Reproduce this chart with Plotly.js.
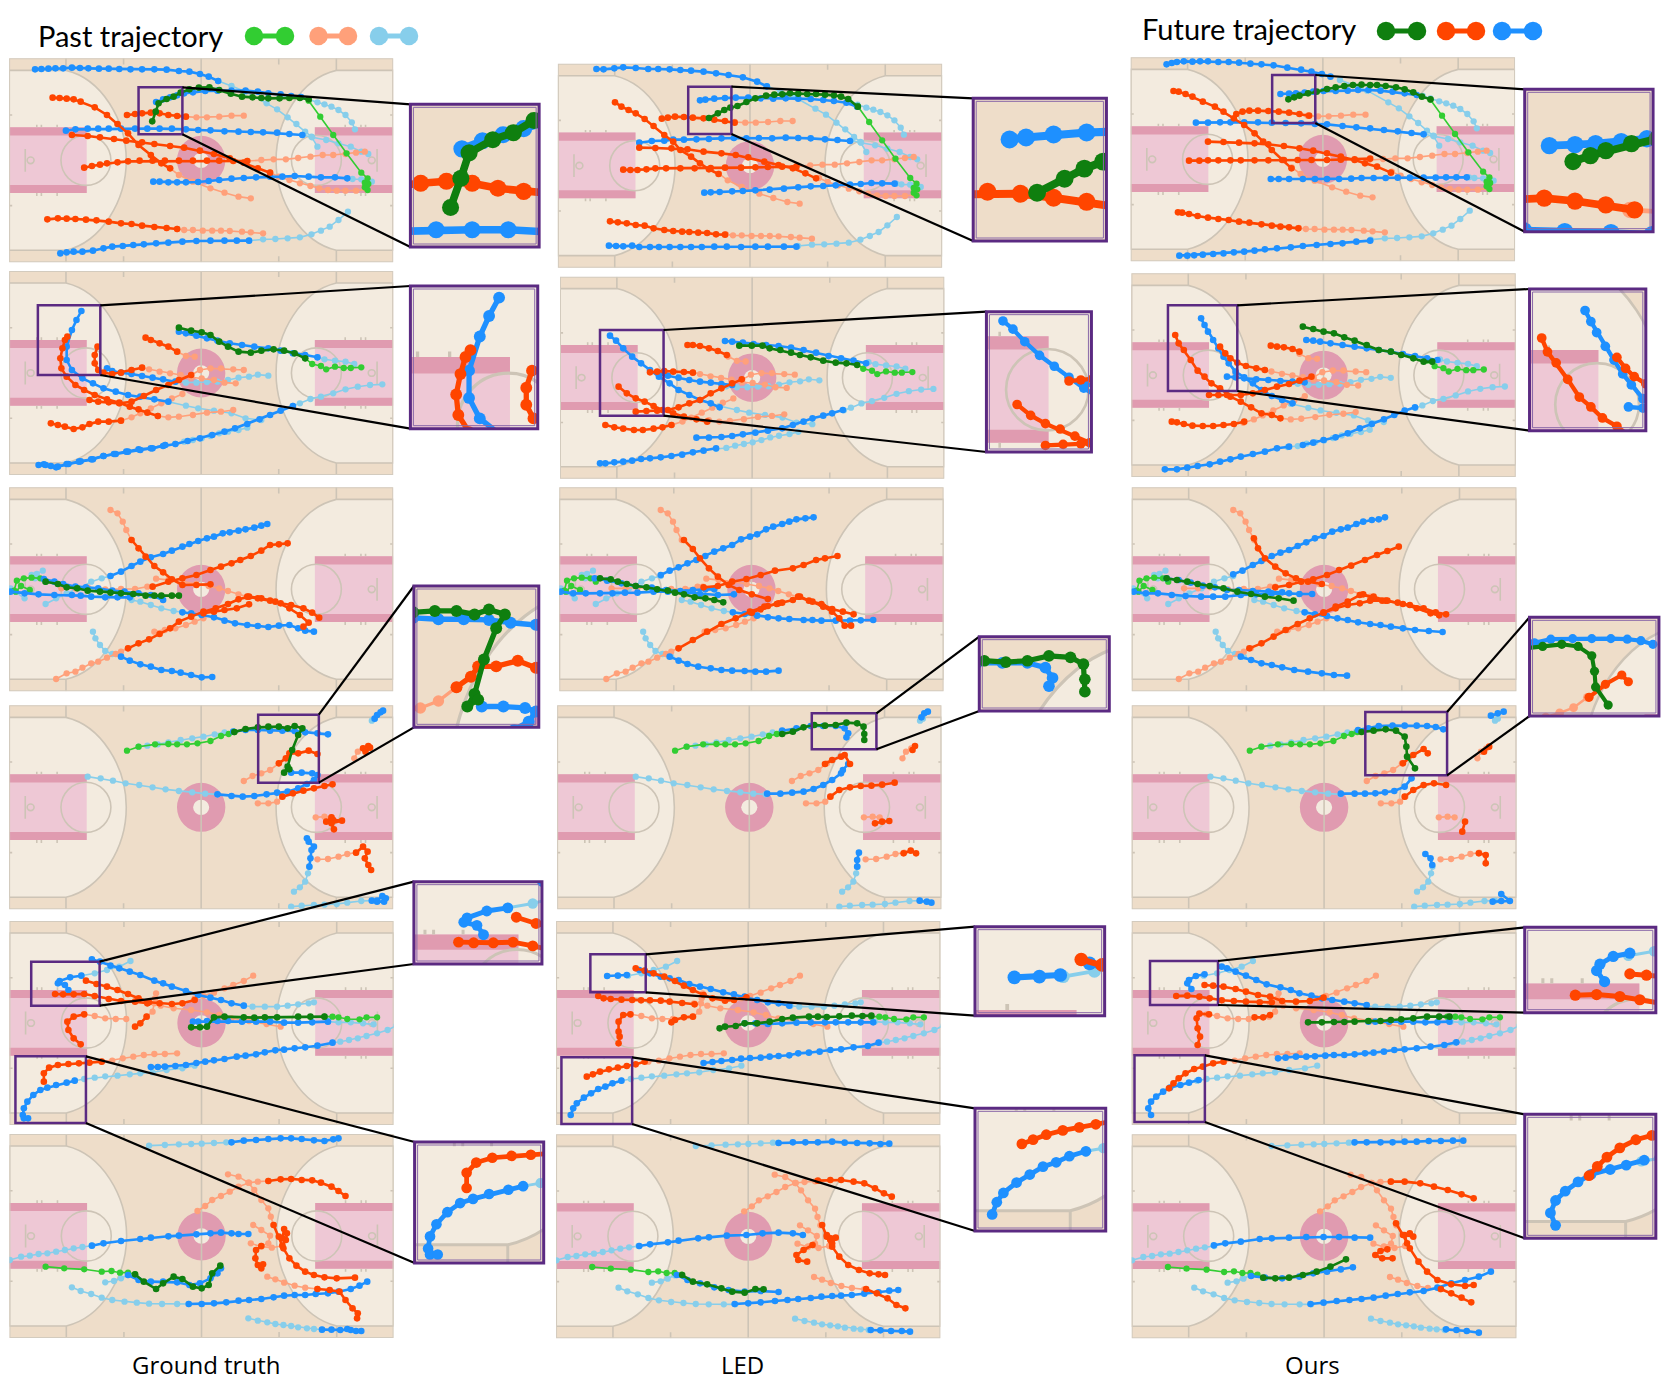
<!DOCTYPE html>
<html>
<head>
<meta charset="utf-8">
<script src="https://cdn.plot.ly/plotly-3.0.1.min.js"></script>
<style>body{margin:0;background:#fff}#chart{width:1661px;height:1400px}</style>
</head>
<body>
<div id="chart"></div>
<script>
// agents in every list below: 5 blue, 5 orange, then the ball. flat x,y pairs
const teams = ['blue','blue','blue','blue','blue','orange','orange','orange','orange','orange','ball'];

const past1 = [
 [905,440,888,410,870,395,845,372,820,352,790,328,760,310,700,275,660,258,622,243],
 [1050,462,1030,455,1000,440,965,430,930,420,890,412,862,405],
 [1060,545,1030,538,1005,537,990,535],
 [992,635,965,660,940,680,915,692,888,703,855,712,820,715,785,717,750,718,710,722],
 [1012,388,1003,367,985,345,965,330,945,320,925,313,905,307,880,298,858,291],
 [715,595,680,590,640,578,600,565,550,545,510,525,485,505],
 [695,347,660,347,625,350,590,352,560,352,530,350],
 [1045,568,1015,572,985,572,960,572,935,570,910,565,885,558,855,550,825,540,795,530,770,518],
 [1040,455,1015,458,985,462,950,465,920,465,885,470,850,474,815,478,780,478,745,480,705,483],
 [750,700,715,697,690,695,655,693,630,692,605,692,578,692,550,690,525,690,505,687],
 [1048,570,1040,562,1050,552,1040,548,1048,535,1030,518,988,460,950,405,913,350,880,302]
];
const gt1 = [
 [622,243,595,230,570,222,540,215,510,213,475,209,440,208,405,208,372,208,340,207,310,206,282,206,252,205,228,204,205,203,180,205,158,205,138,206,118,207,100,208],
 [862,405,825,402,790,398,750,397,715,396,680,395,640,394,600,391,565,390,530,388,490,386,455,386,420,386,385,386,345,386,310,386,280,386,250,386,215,388,188,392],
 [990,535,955,532,915,532,880,530,840,528,805,530,770,530,730,532,695,534,660,536,625,540,595,543,565,546,530,547,505,547,480,547,455,545,437,545],
 [710,722,675,722,640,722,600,722,560,723,520,725,480,728,445,730,410,733,380,735,350,738,320,740,295,745,265,752,235,755,210,755,190,757,172,760],
 [858,291,830,288,800,283,765,280,735,275,700,272,660,272,620,272,585,273,550,277,525,280,505,286,485,292,465,298,445,306],
 [485,505,460,490,430,465,395,435,365,400,335,372,305,345,270,322,230,305,210,298,190,296,170,294,150,293],
 [530,350,505,348,480,345,455,340,430,338,405,340,385,342,362,345],
 [770,518,735,505,695,488,655,475,610,462,570,452,525,443,485,438,440,432,405,427,360,422,325,417,285,412,250,408,205,405],
 [705,483,665,483,625,482,590,482,550,482,510,482,470,482,435,482,398,482,365,484,335,487,305,490,285,494,262,498,240,503],
 [505,687,475,684,440,681,405,677,375,672,345,670,310,665,275,661,245,659,215,657,190,656,165,655,135,658],
 [880,298,855,294,825,294,797,295,765,295,745,294,720,292,690,290,658,281,625,270,597,262,567,263,540,268,515,278,495,290,475,297,452,310,444,335,434,364]
];
const led1 = [
 [607,109,580,95,540,82,500,75,465,70,430,65,395,62,365,60,335,58,303,57,275,57,240,54,205,52,180,55,150,58,130,57],
 [840,273,805,270,770,268,730,265,695,264,660,263,622,265,585,264,550,265,515,264,480,265,445,267,410,268,375,269,345,269,320,272,285,273,250,278],
 [965,401,930,400,900,399,870,402,840,404,800,406,765,408,730,409,695,412,655,416,615,419,575,421,540,423,510,424,475,426,450,427,432,428],
 [690,590,655,590,610,590,575,590,535,591,495,590,460,590,425,591,395,591,365,591,335,591,305,591,280,591,250,591,230,587,205,589,185,588,165,587],
 [860,170,830,158,795,153,765,150,730,147,695,146,660,145,625,146,590,145,555,143,520,143,490,144,460,146,435,149,420,151],
 [472,372,445,358,420,340,395,320,365,300,345,275,320,255,290,228,265,207,240,190,220,180,200,170,182,157],
 [517,218,490,213,460,209,430,205,400,203,375,201,350,200,330,203,313,206],
 [745,385,715,370,680,355,640,345,600,335,555,322,520,315,480,310,430,305,385,298,340,295,295,294,250,293],
 [690,350,650,350,610,351,575,352,535,353,490,353,450,354,405,355,365,355,325,355,295,355,270,358,245,360,225,360,205,359],
 [490,554,465,553,440,549,415,548,390,546,370,545,345,543,320,540,290,535,265,527,240,525,215,520,190,517,168,514],
 [862,170,835,147,815,140,795,136,770,134,745,132,720,132,695,131,672,130,650,133,628,134,605,137,575,145,550,156,525,168,505,173,488,180,470,190,445,204]
];
const ours1 = [
 [610,230,585,222,555,215,525,209,485,203,445,196,410,193,378,191,345,188,315,186,285,186,255,184,232,184,210,185,185,184,165,186,150,189,135,193],
 [880,403,845,399,805,394,765,390,725,385,685,382,645,378,600,373,565,372,525,370,480,369,440,368,400,367,360,367,320,367,290,367,255,368,220,368],
 [1005,532,975,532,945,532,915,533,880,533,840,533,805,533,770,534,735,534,700,534,670,536,635,537,600,537,565,537,530,537,490,537,460,537,437,537],
 [725,722,685,725,645,730,610,732,570,735,530,738,495,742,455,745,420,748,390,752,360,755,330,757,300,760,270,762,240,764,215,766,195,767,172,767],
 [860,285,825,280,790,275,755,272,720,270,690,270,660,272,625,273,590,273,560,275,535,278,510,280,490,281,465,282],
 [497,505,470,480,440,450,415,425,390,400,360,375,330,355,300,335,275,320,240,305,210,290,190,282,170,275,155,273],
 [548,347,520,342,490,338,460,335,430,333,400,332,375,332,355,335,337,342],
 [785,518,745,500,710,490,680,480,640,470,600,460,560,452,520,445,475,438,430,433,390,430,345,428,300,426,255,425],
 [725,476,680,478,640,479,600,480,555,480,515,480,475,480,430,481,390,481,350,481,320,481,285,481,255,481,230,482,200,482],
 [517,685,490,682,465,680,440,677,410,673,375,668,345,665,315,660,285,657,255,653,225,648,200,642,180,638,168,637],
 [900,298,875,290,850,277,825,268,800,262,770,258,745,255,725,255,700,254,675,255,650,258,625,262,600,267,570,275,545,280,520,287,505,292,488,298]
];

const past2 = [
 [745,1260,700,1255,660,1240,610,1232,565,1225,530,1217,480,1205],
 [1010,1092,985,1085,955,1082,925,1078,905,1072],
 [765,1127,735,1124,710,1130,680,1133,650,1140,620,1145,590,1146,560,1148,530,1148,500,1145],
 [1090,1153,1055,1155,1020,1160,985,1168,950,1180,915,1190,885,1197,855,1210,835,1218],
 [705,1283,680,1290,650,1295,625,1300,600,1308,575,1315,550,1320,525,1325,500,1332,471,1335],
 [665,1230,630,1235,590,1238,550,1245,510,1250,480,1252,450,1248],
 [555,1070,530,1068,505,1055],
 [695,1110,665,1108,630,1105,600,1105,570,1110,545,1125],
 [672,1150,640,1148,610,1140,575,1135,545,1132,515,1125,485,1120,455,1115,425,1108,405,1103],
 [520,1182,490,1195,460,1210,430,1225,400,1240,375,1252,345,1262],
 [1030,1102,1000,1104,980,1104,955,1100,930,1108,915,1098,890,1092,870,1075]
];
const gt2 = [
 [480,1205,440,1198,400,1190,365,1185,330,1175,295,1165,265,1150,235,1135,205,1110,190,1080,190,1040,205,990,218,960,232,933],
 [905,1072,870,1065,835,1060,800,1052,765,1045,725,1040,690,1035,655,1030,620,1022,590,1015,560,1007,530,1000,510,995],
 [500,1145,465,1138,435,1133,405,1128,375,1122,345,1118,320,1113,305,1105],
 [835,1218,800,1232,770,1245,740,1258,705,1272,670,1285,640,1295,605,1305,570,1315,535,1323,500,1332,465,1338,430,1345,395,1348,360,1355,325,1362,295,1368,265,1378,230,1384,195,1392,165,1400,145,1398,125,1393,110,1395],
 [471,1335,435,1345,400,1350,365,1355,330,1362,295,1368,260,1378,225,1385,190,1392,160,1402,130,1395],
 [450,1248,420,1238,395,1228,370,1220,340,1208,305,1198,270,1185,240,1170,215,1155,190,1130,175,1105,172,1075,178,1045,185,1020,192,1010],
 [505,1055,480,1040,455,1030,430,1020,415,1013],
 [545,1125,510,1140,480,1155,445,1170,410,1188,375,1205,340,1210,310,1207,280,1205,255,1200],
 [405,1103,375,1110,345,1118,320,1122,295,1118,280,1110,270,1090,270,1065,278,1040],
 [345,1262,310,1265,280,1265,255,1272,235,1282,210,1287,185,1280,165,1275,145,1270],
 [870,1075,840,1060,810,1052,780,1048,745,1052,715,1058,680,1055,650,1040,625,1025,600,1005,575,997,545,992,510,983]
];
const led2 = [
 [475,1072,450,1060,420,1050,390,1035,360,1020,335,1000,305,980,280,960,255,940,230,920,205,895,185,872,168,857],
 [885,940,850,932,815,925,780,918,745,908,710,900,675,893,640,888,605,885,570,882,540,878,510,875,490,873],
 [510,1005,480,1002,450,998,420,995,390,990,360,983,330,977,305,972],
 [820,1080,790,1090,765,1097,735,1105,710,1115,680,1125,650,1135,610,1142,575,1148,540,1153,510,1158,480,1161,445,1163,410,1163],
 [465,1195,430,1202,400,1207,370,1214,340,1218,310,1222,280,1225,255,1227,230,1232,205,1235,180,1237,155,1240,140,1240],
 [440,1115,410,1108,375,1100,345,1090,315,1080,290,1068,265,1055,240,1045,215,1030,192,1010],
 [495,915,470,903,445,895,420,888,400,885,385,885],
 [537,988,510,1000,480,1015,450,1030,420,1050,390,1060,360,1072,330,1080,300,1082,270,1083,240,1085],
 [400,968,375,966,345,965,320,963,300,965,280,967],
 [340,1125,315,1132,290,1136,260,1140,235,1140,205,1136,180,1132,155,1125],
 [860,945,830,940,800,938,765,932,730,922,700,915,675,908,645,900,615,895,595,887,565,887,530,887]
];
const ours2 = [
 [500,1210,470,1200,440,1188,410,1170,385,1150,360,1132,335,1115,315,1090,300,1070,285,1045,270,1020,255,995,245,975,235,955],
 [920,1080,890,1075,855,1068,820,1062,785,1055,750,1050,715,1045,680,1040,645,1035,610,1030,580,1025,560,1022,540,1020],
 [535,1147,500,1145,465,1143,430,1140,395,1138,360,1135,335,1132,310,1130],
 [855,1222,825,1232,795,1245,765,1258,730,1272,695,1285,660,1300,625,1312,590,1320,560,1328,530,1335],
 [490,1340,455,1345,420,1355,385,1362,350,1370,320,1378,290,1385,260,1393,225,1398,195,1403,165,1408,130,1408],
 [465,1255,440,1245,410,1240,380,1222,350,1205,320,1190,290,1165,265,1150,245,1130,225,1112,205,1080,185,1050,170,1030,160,1005],
 [520,1055,500,1047,475,1042,455,1040,437,1037],
 [555,1130,520,1142,490,1152,455,1160,420,1170,385,1180,350,1185,310,1185,285,1185,258,1185],
 [420,1110,395,1105,365,1098,340,1088,320,1075,305,1060,290,1040],
 [360,1265,330,1272,300,1275,270,1278,240,1278,210,1277,185,1272,165,1267,150,1265],
 [905,1085,880,1085,850,1075,815,1065,785,1055,750,1050,715,1035,680,1022,650,1012,620,1000,590,995,560,987,530,980]
];

const past3 = [
 [130,372,160,355,190,340,225,325,260,305,290,295,315,288],
 [122,272,105,282,90,285,100,295,125,297],
 [70,355,45,335,30,325,28,335],
 [375,360,400,365,430,375,460,385,495,393,520,397],
 [265,455,272,475,285,495,300,513,320,522,345,530],
 [315,90,335,100,350,125,360,150,375,180],
 [175,325,215,325,250,322,300,328,345,327,385,327,420,320,435,320],
 [445,296,480,300,520,305,560,312,595,318,625,325,650,333,680,343,705,350],
 [160,597,190,580,215,575,235,563,260,550,280,545,305,533,330,522,345,515,365,505],
 [440,455,470,450,500,445,530,435,555,425,580,415],
 [85,330,60,318,45,335,40,332,48,302,68,295,90,293,115,295,130,305]
];
const gt3 = [
 [315,288,345,275,375,258,400,245,430,232,465,222,490,212,520,200,540,192,565,183,590,175,610,170,635,160,655,157,680,152,700,148,725,143,745,137,762,132],
 [125,297,155,305,180,312,215,320,245,322,280,325,320,332,355,335,395,340,430,345,465,360],
 [30,335,70,340,110,343,155,345,205,345,230,347,260,350,300,352,335,352,370,352],
 [520,397,545,400,575,405,610,412,640,422,670,430,705,435,735,438,765,441,795,437,825,435,850,445,870,452,895,455],
 [345,530,370,542,400,553,430,560,460,570,490,573,515,578,545,585,575,592,605,591],
 [375,180,395,205,415,230,440,258,465,277,490,298,520,315,560,315,600,313],
 [435,320,480,305,520,295,560,285,600,270,630,260,660,250,685,240,715,228,745,212,770,195,795,193,820,190],
 [705,350,735,355,770,362,800,370,830,375,865,385,890,398,910,413],
 [365,505,395,490,425,478,455,462,485,445,510,425,545,410,580,395,615,385,650,372,680,358,710,350,745,355,785,365,825,385,855,405,880,428,865,440],
 [580,400,610,395,640,390,675,385,710,373],
 [130,305,165,312,190,322,220,325,250,332,285,335,315,338,345,340,380,342,415,347,440,347,460,347,490,347,510,347]
];
const led3 = [
 [310,285,335,272,360,262,385,250,410,240,435,228,460,215,485,205,510,195,535,178,560,170,580,163,605,148,625,140,650,132,670,125,690,118,715,115,738,112],
 [125,295,160,302,200,310,240,318,285,323,325,330,365,333,400,330,435,328,460,328],
 [30,335,65,340,100,340,140,340,175,340,210,338,245,338,290,335,330,335,380,338,420,342,470,345,515,343],
 [512,397,545,402,580,407,610,412,640,415,670,417,710,420,735,420,760,422,800,422,840,422,870,421,905,420],
 [335,530,360,542,385,552,415,560,450,565,480,570,510,572,545,573,575,575,605,575,640,572],
 [375,180,400,207,420,235,445,265,470,290,500,315,530,330,565,343,610,357],
 [430,322,470,318,510,305,550,297,590,285,630,272,680,265,710,255,745,240,770,235,805,228],
 [695,350,725,362,760,372,790,387,820,395,850,403],
 [360,505,400,480,440,455,480,432,520,415,560,395,600,380,640,370,680,360,700,350,735,365,765,380,790,395,810,415,825,437,843,437],
 [565,398,590,388,610,378,635,372,650,368],
 [140,295,170,298,190,305,215,312,240,318,270,322,300,328,330,332,350,338,375,343,405,352,435,355,460,360,485,367]
];
const ours3 = [
 [328,283,355,272,385,255,410,243,440,228,465,218,490,210,515,198,540,187,565,175,590,168,615,155,640,148,660,143,685,132,705,125,730,120,750,118,768,112],
 [135,295,170,300,205,308,240,317,275,322,310,330,345,330,385,333,430,335,470,337],
 [40,335,75,340,110,340,150,345,190,348,235,350,270,350,305,350,350,345,395,343,440,340,490,340,520,342,557,342],
 [535,397,565,403,600,408,630,415,660,420,690,427,725,432,755,435,785,440,820,445,855,450,895,453,935,456],
 [350,530,380,540,410,550,440,555,470,562,505,570,545,575,585,580,620,585,658,587],
 [388,175,400,205,420,235,450,260,480,280,510,295,545,305,585,312],
 [450,322,490,315,525,305,560,298,600,285,635,270,670,257,710,240,745,225,775,213,808,200],
 [705,343,735,355,770,362,805,368,840,375,880,385,915,397,945,403],
 [375,505,410,490,445,470,480,450,515,432,550,415,590,398,625,380,660,365,695,345,735,350,775,362,820,372,860,385,900,400,925,406],
 [590,398,625,385,660,375,695,370,725,362,760,362],
 [135,295,165,300,195,305,225,312,260,318,300,325,340,335,380,342,420,350,460,355,503,362]
];

const past4 = [
 [250,890,287,895,322,902,358,910,397,915,435,922,472,928,510,933,548,937,585,941,620,943],
 [395,800,420,797,450,793,480,787,515,780,548,775,580,770,612,763,640,757,665,755],
 [1060,722,1068,716],
 [838,1235,855,1222,870,1205,878,1180,882,1160],
 [830,1280,860,1277,895,1275,925,1274,960,1272,990,1268,1030,1263,1060,1262],
 [695,903,720,888,745,880,770,870,795,850],
 [735,970,765,970,790,965,805,950],
 [1010,835,1020,815,1035,805],
 [900,1012,925,1010,945,1012],
 [905,1138,935,1137,965,1130,990,1122,1015,1118],
 [362,812,395,800,442,793,480,792,505,793,533,793,563,790,600,783,630,768,652,762,668,756]
];
const gt4 = [
 [620,943,660,948,692,950,725,948,760,943,790,938,820,935,850,925,875,912,895,900,905,885,890,880,860,878,830,878],
 [665,755,700,750,735,750,770,752,805,752,840,753,870,757,905,760,935,763],
 [1068,716,1075,705,1085,697,1092,692],
 [882,1160,885,1135,888,1110,895,1100,880,1085,875,1075],
 [1060,1262,1075,1265,1095,1265,1100,1255,1090,1248,1075,1262],
 [795,850,815,835,825,820,850,820,880,812,905,822],
 [805,950,835,940,865,932,895,925,925,918,948,913],
 [1035,805,1050,798,1055,803,1042,815],
 [945,1012,930,1025,950,1020,975,1022,945,1030,952,1048],
 [1015,1118,1035,1100,1048,1115,1040,1135,1050,1155,1058,1170],
 [668,756,700,747,735,742,765,740,795,740,820,745,840,738,862,745,850,765,833,810,820,860,810,878,825,868]
];
const led4 = [
 [608,941,645,941,678,938,710,935,738,927,765,915,790,900,815,880,820,870,835,852],
 [650,752,690,745,730,738,765,738,800,738,825,745,835,760,830,772],
 [1040,712,1048,700,1058,695],
 [860,1160,860,1140,865,1118],
 [1035,1262,1055,1265,1068,1268],
 [770,852,790,840,815,830,825,825,840,852],
 [785,950,810,930,840,922,870,918,900,917,930,914,965,908],
 [1015,810,1022,798],
 [910,1030,930,1025,950,1023],
 [990,1120,1010,1112,1025,1120],
 [650,762,680,755,710,742,740,735,770,737,800,735,830,728,860,730,878,740,880,762,880,780]
];
const ours4 = [
 [640,941,680,941,710,941,740,940,768,937,795,933,825,920,845,895],
 [690,750,720,745,750,738,790,737,825,737,860,737,890,738,915,741,937,748],
 [1075,707,1095,700,1112,695],
 [905,1155,900,1135,885,1122],
 [1080,1265,1105,1263,1130,1263,1105,1242],
 [820,850,850,825,880,807,892,820],
 [825,950,850,930,880,915,910,910,945,915],
 [1055,815,1070,800],
 [1000,1025,992,1055],
 [1040,1120,1060,1125,1060,1150],
 [700,756,735,752,770,748,800,752,825,770,830,800,832,830,855,865]
];

const past5 = [
 [372,138,340,155,305,165,270,175,232,182],
 [895,262,880,265,850,268,820,272,790,275,755,275,720,275,695,272],
 [1065,328,1035,325,1000,322,965,322,935,320],
 [1130,332,1105,345,1075,355,1045,363,1020,370,995,375,970,380,948,383],
 [555,452,520,460,475,465,435,472,400,475,370,478,335,482,300,484,270,488,240,492,213,497],
 [722,182,695,198,665,210,640,220,610,233,580,243,555,250],
 [445,235,442,250,440,265,435,290,418,305],
 [360,312,330,312,300,310,270,303,240,298],
 [505,415,470,417,440,417,410,420,380,425,350,430,320,437,290,440],
 [800,335,760,327,710,318,660,310,625,300,590,292,545,285,495,280,458,272,420,265],
 [1075,307,1045,307,1025,313,990,312,965,307,948,305,925,305]
];
const gt5 = [
 [232,182,200,187,170,198,165,205,185,210,195,225],
 [695,272,660,265,630,255,600,248,565,240,530,228,490,215,465,205,440,197,400,180,370,170,340,160,315,152,285,140,262,133],
 [935,320,890,322,850,323,810,323,770,320,730,320,690,320,650,318,620,318,590,318,565,320,550,320],
 [948,383,905,392,870,397,840,400,810,404,785,406,755,412,730,418,700,422,675,425,640,432,610,436,585,440,560,444,530,450,500,453,470,455,450,456,430,456],
 [213,497,190,503,160,510,135,518,115,525,95,540,78,560,68,580,65,600,68,610,80,610],
 [555,255,520,265,490,267,455,265,425,262,395,250,365,237,335,225,305,215,275,207,245,197],
 [418,305,400,325,385,335],
 [240,298,210,305,192,320,195,345,210,370,230,388],
 [290,440,255,443,225,445,195,447,165,450,140,458,125,475,125,500],
 [420,265,385,260,345,258,310,252,270,243,240,237,210,238,180,238,157,237],
 [925,305,885,305,850,305,790,307,755,307,725,308,695,307,640,305,610,307,590,335,570,337,545,337]
];
const led5 = [
 [215,180,190,182,160,183],
 [670,272,640,265,610,262,580,255,545,245,515,238,485,232,450,222,420,215,390,207,360,195,335,190,310,185,280,175,250,165],
 [905,322,870,322,835,322,800,322,770,322,730,322,690,323,650,325,610,327,575,325,545,325],
 [920,383,890,393,850,397,815,403,785,405,755,410,725,413,695,415,670,421,640,423,615,425,590,428,560,429,535,431,510,435,480,438,455,441,430,444],
 [200,497,175,505,155,515,135,522,115,535,95,548,75,565,65,580,58,600],
 [550,247,515,255,490,257,455,250,430,240,400,225,375,212,350,198,320,185,290,175,265,167,240,160],
 [400,305,375,307,350,315,340,322],
 [225,298,205,300,192,320,192,350,195,365,192,385],
 [265,440,240,448,215,453,190,458,165,463,140,470,120,478,103,485],
 [405,268,370,264,335,260,310,257,280,256,255,256,230,255,200,254,170,252,150,250,135,243],
 [900,302,875,303,845,302,810,304,775,306,750,305,725,305,680,308,650,312,615,320,580,325,545,325,520,333,490,335,475,340]
];
const ours5 = [
 [245,178,220,183,200,195,195,205,207,222],
 [715,270,680,265,650,260,615,255,585,250,555,242,520,235,495,225,465,217,425,208,395,195,365,182,335,170,310,160,295,155],
 [955,320,920,322,885,322,850,320,815,320,780,320,740,320,720,320],
 [975,382,940,390,900,395,860,400,825,403,795,405,765,410,735,413,710,415,680,418,650,420,620,420,595,422,565,424,540,425,510,425,480,428,458,430],
 [228,495,200,503,175,510,145,518,125,530,105,545,90,560,82,580,90,600],
 [590,248,550,258,510,260,470,258,435,245,400,240,365,230,335,222,300,215,270,212,245,210],
 [435,300,415,307,390,307],
 [258,298,230,296,222,310,225,340,232,365,225,390],
 [300,440,270,445,240,455,215,462,190,475,170,490,155,505,142,520],
 [440,262,405,262,365,260,330,258,295,256,260,250,230,245,195,242,163,243],
 [955,305,925,305,890,305,850,310,815,313,785,315,755,318,720,318,680,320,650,321,620,321,585,322,545,322]
];

const past6 = [
 [425,692,470,690,510,688,545,687,575,686,610,684,645,682,660,682],
 [28,1035,60,1025,85,1022,110,1017,135,1015,160,1010,185,1005,210,1000,235,996,262,992],
 [205,1117,230,1128,260,1137,290,1148,320,1155,355,1160,390,1163,425,1166,462,1167,505,1167,538,1167],
 [708,1210,735,1217,762,1222,785,1227,808,1230,830,1233,850,1237,875,1240,895,1242,918,1244],
 [300,1102,325,1098,345,1090,365,1080],
 [563,888,585,873,605,855,630,843,655,830,680,815,710,803,735,800,765,798],
 [650,778,680,785,708,803,725,825,745,855,765,880,772,905,780,930],
 [722,930,745,945,770,962,765,985,745,993],
 [715,985,745,995,775,998,805,992],
 [762,1085,785,1093,810,1103,840,1112,870,1118,905,1122],
 [130,1055,183,1060,240,1063,290,1070,318,1068,342,1073,365,1073,385,1078]
];
const gt6 = [
 [660,682,695,677,730,675,765,672,800,670,830,670,860,672,895,676,925,678,950,673,965,670],
 [262,992,295,985,345,978,400,972,430,968,480,964,510,962,560,958,600,955,630,953,660,955,680,957,708,957],
 [538,1167,575,1167,610,1165,645,1162,680,1157,710,1155,745,1152,780,1147,810,1142,840,1140,870,1140,900,1137,935,1135,965,1130,1000,1122,1025,1112,1047,1100],
 [918,1244,945,1244,970,1245,1000,1245,1030,1248,1015,1248,990,1242],
 [365,1080,395,1095,430,1100,465,1100,505,1102,540,1110,570,1105,600,1090,620,1075,630,1060],
 [765,798,800,793,830,792,860,795,890,796,915,803,945,815,965,828,985,843],
 [780,930,795,965,808,1000,825,1030,845,1052,870,1070,895,1080,925,1087,960,1090,1012,1088],
 [745,993,730,1005,728,1030,735,1050,750,1048,745,1060],
 [805,992,815,975,818,955,810,942,805,970],
 [905,1122,940,1125,968,1130,985,1155,1005,1180,1020,1195,1018,1210],
 [385,1078,410,1100,445,1122,465,1105,495,1085,520,1092,550,1115,575,1120,595,1110,605,1075,628,1052]
];
const led6 = [
 [640,684,680,682,715,682,750,682,790,680,825,683,860,684,895,685,925,687,950,686],
 [250,993,280,988,330,982,360,977,415,970,445,967,495,962,550,960,595,955,640,953,680,955,708,960],
 [517,1167,555,1165,590,1162,630,1158,665,1155,695,1152,730,1149,760,1145,790,1143,815,1142,845,1140,880,1136,920,1132,950,1127,975,1125],
 [898,1245,925,1246,955,1248,985,1248,1008,1250],
 [355,1080,385,1095,420,1105,460,1117,500,1125,545,1130,590,1128,640,1131],
 [750,797,785,795,815,795,850,800,880,805,910,820,935,835,957,845],
 [762,930,775,965,790,995,810,1025,835,1050,865,1065,895,1075,920,1078,938,1080],
 [735,990,710,1005,690,1020,695,1035,720,1040],
 [785,975,775,960,800,968,790,985],
 [885,1122,915,1135,945,1150,970,1170,995,1180],
 [370,1080,400,1100,440,1108,480,1120,510,1130,545,1133,575,1122,598,1123]
];
const ours6 = [
 [680,682,715,682,755,682,790,682,825,680,860,680,895,678,930,678,965,677,995,677],
 [272,991,305,985,350,980,405,972,440,970,490,968,540,966,590,966,635,966,680,968,725,968],
 [552,1167,590,1163,628,1158,665,1155,700,1152,735,1148,770,1142,805,1137,840,1132,880,1128,920,1118,960,1105,1000,1095,1040,1085,1075,1070],
 [945,1243,975,1245,1005,1248,1040,1253],
 [380,1083,420,1088,470,1090,520,1085,560,1075,600,1070,640,1063,675,1057],
 [785,800,825,800,870,805,910,815,950,825,990,838,1025,850],
 [800,925,820,960,840,1000,865,1040,890,1070,920,1095,960,1108,1000,1113,1025,1110],
 [790,1030,760,1030,740,1020,755,1008,775,1003],
 [832,985,825,960,850,965,840,955],
 [930,1122,960,1135,990,1148,1018,1162],
 [415,1088,450,1090,490,1088,530,1080,570,1070,610,1055,655,1033]
];

const pastByRow = [past1,past2,past3,past4,past5,past6];
const futureByPanel = [[gt1,led1,ours1],[gt2,led2,ours2],[gt3,led3,ours3],[gt4,led4,ours4],[gt5,led5,ours5],[gt6,led6,ours6]];

const colors = {
  past:{blue:'#87ceeb',orange:'#ffa07a',ball:'#32cd32'},
  future:{blue:'#1e90ff',orange:'#ff4500',ball:'#0f7f0f'}
};
const WOOD='#eeddc9', LIGHT='#f3ebdf', PAINT='#eec8d5', BAND='#e09bb0', LINE='#cdc4b6', PURPLE='#5b2a82';

// crop window + court position inside that crop: cropX,cropY,ox,oy,W,H
const geom = [
 [[0,0,26,175,1095,612],[550,50,22,41,1076,612],[1120,0,31,172,1114,612]],
 [[0,0,26,813,1095,612],[550,50,28,680,1076,606],[1120,0,33,820,1114,611]],
 [[0,480,26,22,1095,612],[550,480,26,22,1076,612],[1120,480,34,22,1115,612]],
 [[0,480,26,676,1095,612],[550,480,20,676,1076,612],[1120,480,34,676,1115,612]],
 [[0,915,27,18,1095,612],[550,915,17,18,1076,612],[1120,915,34,18,1115,612]],
 [[0,915,27,657,1095,612],[550,915,17,658,1076,612],[1120,915,34,658,1115,612]]
];
// crop units per page px differ by column, x only
const xScale = [550/1568,560/1568,541/1568];
// row, col, zoom box, inset frame (both in crop px)
const insets = [
 [0,0,[395,262,520,403],[1170,313,1537,741]],
 [1,0,[108,916,286,1125],[1170,858,1533,1286]],
 [0,1,[387,110,508,252],[1185,145,1558,573]],
 [1,1,[140,840,318,1097],[1222,785,1516,1206]],
 [0,2,[441,225,566,369],[1173,268,1545,695]],
 [1,2,[139,916,340,1173],[1187,867,1524,1292]],
 [3,0,[736,704,909,908],[1180,318,1536,742]],
 [3,1,[733,700,914,808],[1202,470,1566,693]],
 [3,2,[711,696,948,886],[1187,412,1562,708]],
 [4,0,[89,140,284,272],[1180,-100,1545,147]],
 [4,0,[44,424,245,624],[1182,681,1550,1044]],
 [4,1,[113,118,268,232],[1190,35,1553,302]],
 [4,1,[32,427,230,627],[1190,580,1556,948]],
 [4,2,[87,138,284,270],[1173,37,1553,293]],
 [4,2,[42,421,246,621],[1173,598,1553,970]]
];

const PW=1661, PH=1400;
const px=x=>x/PW, py=y=>1-y/PH;
let traces=[], shapes=[], axes={}, axisCount=0;

function toFrac(arr,g){
  let xs=[],ys=[];
  for(let i=0;i<arr.length;i+=2){ xs.push((arr[i]-g[2])/g[4]); ys.push((arr[i+1]-g[3])/g[5]); }
  return [xs,ys];
}

function courtShapes(xr,yr,k){
  const base={xref:xr,yref:yr,layer:'below'};
  const line={color:LINE,width:1.6*k};
  const rect=(x0,y0,x1,y1,fill,l)=>({...base,type:'rect',x0,y0,x1,y1,fillcolor:fill,line:l||{width:0}});
  const oval=(cx,cy,rx,ry,fill,l)=>({...base,type:'circle',x0:cx-rx,y0:cy-ry,x1:cx+rx,y1:cy+ry,fillcolor:fill,line:l||{width:0}});
  const path=(d,fill,l)=>({...base,type:'path',path:d,fillcolor:fill||'rgba(0,0,0,0)',line:l||line});
  const arcL='M0,.059 L.148,.059 C.24,.10 .305,.30 .305,.5 C.305,.70 .24,.90 .148,.941 L0,.941 Z';
  const arcR='M1,.059 L.852,.059 C.76,.10 .695,.30 .695,.5 C.695,.70 .76,.90 .852,.941 L1,.941 Z';
  let ticks='M.148,0 L.148,.059 M.852,0 L.852,.059 M.148,.941 L.148,1 M.852,.941 L.852,1'
    +' M.298,0 L.298,.03 M.702,0 L.702,.03 M.298,.97 L.298,1 M.702,.97 L.702,1'
    +' M0,.278 L.008,.278 M0,.722 L.008,.722 M1,.278 L.992,.278 M1,.722 L.992,.722'
    +' M.072,.325 L.072,.338 M.084,.325 L.084,.338 M.125,.325 L.125,.338 M.072,.66 L.072,.675 M.084,.66 L.084,.675 M.125,.66 L.125,.675'
    +' M.928,.325 L.928,.338 M.916,.325 L.916,.338 M.875,.325 L.875,.338 M.928,.66 L.928,.675 M.916,.66 L.916,.675 M.875,.66 L.875,.675'
    +' M.042,.444 L.042,.556 M.958,.444 L.958,.556 M.5,0 L.5,1';
  return [
    rect(0,0,1,1,WOOD),
    path(arcL,LIGHT), path(arcR,LIGHT),
    rect(0,.338,.202,.66,PAINT), rect(.796,.338,1,.66,PAINT),
    rect(0,.338,.202,.378,BAND), rect(0,.621,.202,.66,BAND),
    rect(.796,.338,1,.378,BAND), rect(.796,.621,1,.66,BAND),
    oval(.5,.5,.063,.12,BAND), oval(.5,.5,.021,.0375,LIGHT),
    oval(.2,.5,.065,.123,'rgba(0,0,0,0)',line), oval(.8,.5,.065,.123,'rgba(0,0,0,0)',line),
    oval(.056,.5,.009,.016,'rgba(0,0,0,0)',line), oval(.944,.5,.009,.016,'rgba(0,0,0,0)',line),
    path(ticks), 
    rect(0,0,1,1,'rgba(0,0,0,0)',{color:'#d3cbbe',width:2*k})
  ];
}

function addView(pastF,futF,left,top,w,h,rx,ry,k){
  axisCount++;
  const n=axisCount, xr='x'+(n>1?n:''), yr='y'+(n>1?n:'');
  axes['xaxis'+(n>1?n:'')]={domain:[px(left),px(left+w)],range:rx,anchor:yr,visible:false,fixedrange:true};
  axes['yaxis'+(n>1?n:'')]={domain:[py(top+h),py(top)],range:ry,anchor:xr,visible:false,fixedrange:true};
  shapes.push(...courtShapes(xr,yr,k));
  // insets were enlarged from a slightly smaller dot than the full courts show
  const dot=k>1?k*0.88:1;
  [['past',pastF],['future',futF]].forEach(([kind,sets])=>{
    ['blue','orange','ball'].forEach(team=>{
      let xs=[],ys=[];
      sets.forEach((s,i)=>{ if(teams[i]===team){ xs.push(...s[0],null); ys.push(...s[1],null); } });
      traces.push({type:'scatter',mode:'lines+markers',x:xs,y:ys,xaxis:xr,yaxis:yr,hoverinfo:'skip',showlegend:false,
        line:{color:colors[kind][team],width:(kind==='past'?1.6:2.6)*k},
        marker:{color:colors[kind][team],size:(kind==='past'?6.3:6.6)*dot}});
    });
  });
}

let fracs=[];
geom.forEach((rowG,r)=>{
  fracs[r]=[];
  const pastF=pastByRow[r].map(a=>toFrac(a,rowG[0]));
  rowG.forEach((g,c)=>{
    const futF=futureByPanel[r][c].map(a=>toFrac(a,g));
    fracs[r][c]={pastF,futF};
    addView(pastF,futF,g[0]+g[2]*xScale[c],g[1]+g[3]/3,g[4]*xScale[c],g[5]/3,[0,1],[1,0],1);
  });
});

const paperRect=(x0,y0,x1,y1,color,width)=>({type:'rect',xref:'paper',yref:'paper',layer:'above',
  x0:px(x0),x1:px(x1),y0:py(y1),y1:py(y0),line:{color,width},fillcolor:'rgba(0,0,0,0)'});
const paperLine=(x0,y0,x1,y1)=>({type:'line',xref:'paper',yref:'paper',layer:'above',
  x0:px(x0),x1:px(x1),y0:py(y0),y1:py(y1),line:{color:'#000',width:2.2}});

let overlay=[];
insets.forEach(([r,c,box,frame])=>{
  const g=geom[r][c];
  const P=(x,y)=>[g[0]+x*xScale[c],g[1]+y/3];
  const [bx0,by0]=P(box[0],box[1]), [bx1,by1]=P(box[2],box[3]);
  const [fx0,fy0]=P(frame[0],frame[1]), [fx1,fy1]=P(frame[2],frame[3]);
  const k=(fx1-fx0)/(bx1-bx0);
  const rx=[(box[0]-g[2])/g[4],(box[2]-g[2])/g[4]];
  const ry=[(box[3]-g[3])/g[5],(box[1]-g[3])/g[5]];
  addView(fracs[r][c].pastF,fracs[r][c].futF,fx0,fy0,fx1-fx0,fy1-fy0,rx,ry,k);
  overlay.push(paperRect(bx0,by0,bx1,by1,PURPLE,2.5));
  overlay.push(paperLine(bx1,by0,fx0,fy0),paperLine(bx1,by1,fx0,fy1));
  overlay.push(paperRect(fx0,fy0,fx1,fy1,PURPLE,3));
  overlay.push(paperRect(fx0+3,fy0+3,fx1-3,fy1-3,'#8a68a8',1));
});
shapes.push(...overlay);

// legend swatches on a page-size axis
axisCount++;
{
  const n=axisCount;
  axes['xaxis'+n]={domain:[0,1],range:[0,PW],anchor:'y'+n,visible:false,fixedrange:true};
  axes['yaxis'+n]={domain:[0,1],range:[PH,0],anchor:'x'+n,visible:false,fixedrange:true};
  const swatch=(x0,x1,y,color)=>traces.push({type:'scatter',mode:'lines+markers',x:[x0,x1],y:[y,y],xaxis:'x'+n,yaxis:'y'+n,
    hoverinfo:'skip',showlegend:false,line:{color,width:5},marker:{color,size:18.5}});
  swatch(254,285,36,colors.past.ball); swatch(318.5,348,36,colors.past.orange); swatch(379,409,36,colors.past.blue);
  swatch(1386,1417,31,colors.future.ball); swatch(1446,1476,31,colors.future.orange); swatch(1502,1533,31,colors.future.blue);
}

const label=(text,x,y,size,family)=>({text,xref:'paper',yref:'paper',x:px(x),y:py(y),xanchor:'left',yanchor:'middle',showarrow:false,
  font:{family,size,color:'#000'}});

const layout={
  width:PW,height:PH,margin:{l:0,r:0,t:0,b:0},paper_bgcolor:'#fff',plot_bgcolor:'rgba(0,0,0,0)',showlegend:false,
  shapes,
  annotations:[
    label('Past trajectory',36,36,29,'Lato'),
    label('Future trajectory',1140,29,29,'Lato'),
    label('Ground truth',130,1364,24,'Open Sans'),
    label('LED',719,1364,24,'Open Sans'),
    label('Ours',1283,1364,24,'Open Sans')
  ],
  ...axes
};
Plotly.newPlot('chart',traces,layout,{displayModeBar:false,staticPlot:true});
</script>
</body>
</html>
